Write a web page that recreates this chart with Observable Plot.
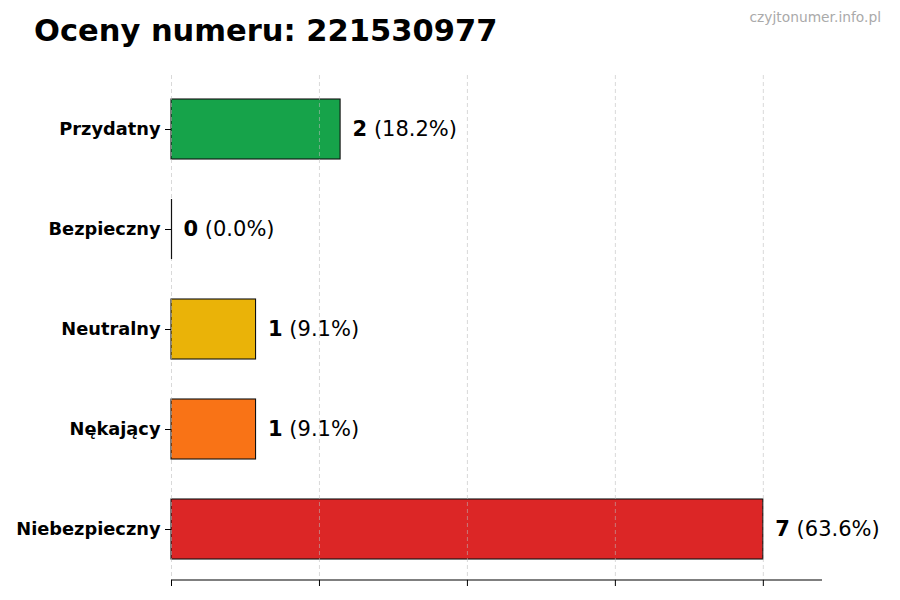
<!DOCTYPE html>
<html><head><meta charset="utf-8">
<script src="https://cdn.jsdelivr.net/npm/d3@7"></script>
<script src="https://cdn.jsdelivr.net/npm/@observablehq/plot@0.6"></script>
<style>
body{margin:0;background:#fff;font-family:"DejaVu Sans",sans-serif;}
#wrap{position:relative;width:900px;height:600px;}
#title{position:absolute;left:34px;top:13px;font-size:30.5px;font-weight:bold;color:#000;white-space:nowrap;}
#site{position:absolute;right:19px;top:9px;font-size:13.8px;color:#aaa;}
</style></head><body>
<div id="wrap"><div id="chart"></div><div id="title">Oceny numeru: 221530977</div><div id="site">czyjtonumer.info.pl</div></div>
<script>
const categories = ["Przydatny","Bezpieczny","Neutralny","Nękający","Niebezpieczny"];
const counts = [2,0,1,1,7];
const percents = ["18.2%","0.0%","9.1%","9.1%","63.6%"];
const colors = ["#16a34a","#16a34a","#eab308","#f97316","#dc2626"];
const xTicks = [0,1.75,3.5,5.25,7];

const data = categories.map((c,i)=>({cat:c,n:counts[i],pct:percents[i],color:colors[i],label:`${counts[i]} (${percents[i]})`}));

const chart = Plot.plot({
  width:900,height:600,
  marginLeft:171,marginRight:78,marginTop:77,marginBottom:20,
  style:{fontFamily:"DejaVu Sans",background:"white"},
  x:{domain:[0,7.7],label:null},
  y:{domain:categories,label:null,paddingInner:0.4,paddingOuter:0.2},
  marks:[
    Plot.barX(data,{y:"cat",x:"n",fill:"color",stroke:"#111",strokeWidth:1.1}),
    Plot.gridX({ticks:xTicks,stroke:"#bbb",strokeOpacity:0.7,strokeDasharray:"4,3",strokeWidth:0.8,insetTop:-2}),
    Plot.tickX(data.filter(d=>d.n===0),{y:"cat",x:"n",stroke:"#111",strokeWidth:1.2}),
    Plot.text(data,{y:"cat",x:"n",text:"label",textAnchor:"start",dx:12,fontSize:21,fill:"#000",className:"vlabel"}),
    Plot.axisX({ticks:xTicks,tickFormat:()=>"",tickSize:6,stroke:"#000",label:null}),
    Plot.axisY({tickSize:6,fontSize:17.8,fontWeight:"bold",fill:"#000",tickPadding:5,label:null})
  ]
});
document.getElementById("chart").appendChild(chart);
const svg = d3.select(chart);
const xs = chart.scale("x");
svg.append("line").attr("x1",xs.apply(0)).attr("x2",xs.apply(7.7)).attr("y1",580).attr("y2",580).attr("stroke","#000").attr("stroke-width",1.1);
svg.selectAll("g.vlabel text").each(function(){
  const t=d3.select(this);const s=t.text();const i=s.indexOf(" ");
  t.text(null);
  t.append("tspan").attr("font-weight","bold").text(s.slice(0,i));
  t.append("tspan").text(s.slice(i));
});
</script></body></html>
